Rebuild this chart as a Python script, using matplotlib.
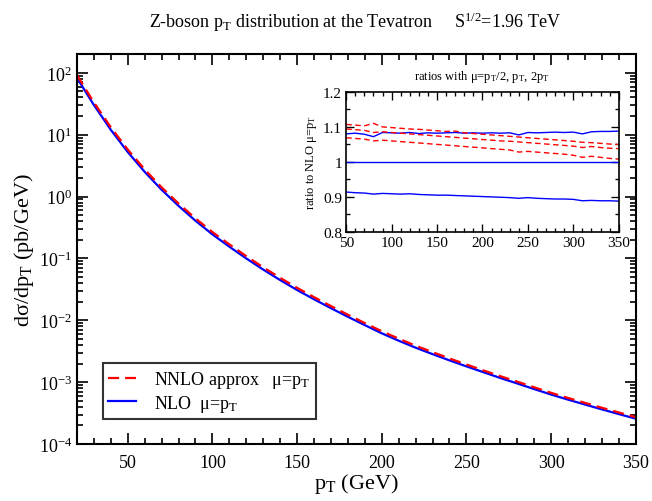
import numpy as np
import matplotlib.pyplot as plt
from matplotlib.ticker import MultipleLocator, LogLocator, NullFormatter

plt.rcParams['font.family'] = ['Liberation Serif', 'DejaVu Serif']
plt.rcParams['mathtext.fontset'] = 'custom'
plt.rcParams['mathtext.rm'] = 'Liberation Serif'
plt.rcParams['mathtext.it'] = 'Liberation Serif:italic'
plt.rcParams['mathtext.bf'] = 'Liberation Serif:bold'

# DADOS - curva principal (pb/GeV)
pt = [20, 25, 30, 35, 40, 45, 50, 60, 70, 80, 90, 100, 110, 120, 130, 140, 150,
      160, 170, 180, 190, 200, 210, 220, 230, 240, 250, 260, 270, 280, 290, 300,
      310, 320, 330, 340, 350]
nlo = [83.2, 50.1, 30.2, 19.1, 12.0, 7.94, 5.25, 2.51, 1.29, 0.708, 0.407, 0.245,
       0.155, 0.100, 0.0661, 0.0447, 0.0309, 0.0219, 0.0157, 0.0114, 0.00836, 0.00617,
       0.00468, 0.00361, 0.00284, 0.00225, 0.00180, 0.00145, 0.00117, 0.000953,
       0.000774, 0.000631, 0.000522, 0.000435, 0.000363, 0.000305, 0.000257]
nnlo = [92.0, 55.3, 33.3, 21.0, 13.2, 8.72, 5.76, 2.75, 1.41, 0.773, 0.444, 0.267,
        0.169, 0.109, 0.0719, 0.0486, 0.0335, 0.0237, 0.0170, 0.0123, 0.00903, 0.00666,
        0.00505, 0.00389, 0.00306, 0.00242, 0.00193, 0.00155, 0.00125, 0.00102,
        0.000827, 0.000673, 0.000556, 0.000463, 0.000386, 0.000324, 0.000272]

# DADOS - razoes (inset)
pt_r = [50, 60, 70, 80, 90, 100, 110, 120, 130, 140, 150, 160, 170, 180, 190, 200,
        210, 220, 230, 240, 250, 260, 270, 280, 290, 300, 310, 320, 330, 340, 350]
nlo_hi = [1.080, 1.082, 1.079, 1.072, 1.084, 1.083, 1.082, 1.084, 1.081, 1.083, 1.082,
          1.083, 1.084, 1.082, 1.083, 1.082, 1.083, 1.082, 1.083, 1.077, 1.084, 1.083,
          1.084, 1.085, 1.084, 1.085, 1.080, 1.086, 1.087, 1.087, 1.088]
nlo_one = [1.0] * 31
nlo_lo = [0.914, 0.912, 0.911, 0.908, 0.910, 0.909, 0.908, 0.909, 0.907, 0.906, 0.905,
          0.905, 0.904, 0.903, 0.902, 0.901, 0.900, 0.899, 0.898, 0.896, 0.898, 0.896,
          0.895, 0.894, 0.894, 0.893, 0.889, 0.890, 0.889, 0.889, 0.888]
nnlo_hi = [1.107, 1.105, 1.103, 1.110, 1.100, 1.098, 1.096, 1.094, 1.093, 1.091, 1.089,
           1.087, 1.088, 1.083, 1.081, 1.079, 1.077, 1.075, 1.073, 1.071, 1.069, 1.067,
           1.065, 1.063, 1.061, 1.059, 1.056, 1.055, 1.053, 1.051, 1.050]
nnlo_mid = [1.094, 1.092, 1.090, 1.084, 1.086, 1.084, 1.082, 1.080, 1.078, 1.076, 1.074,
            1.072, 1.070, 1.068, 1.066, 1.064, 1.062, 1.060, 1.059, 1.057, 1.055, 1.053,
            1.051, 1.049, 1.047, 1.045, 1.041, 1.044, 1.041, 1.039, 1.038]
nnlo_lo = [1.069, 1.067, 1.065, 1.060, 1.062, 1.060, 1.058, 1.056, 1.054, 1.052, 1.050,
           1.048, 1.046, 1.044, 1.042, 1.040, 1.038, 1.036, 1.034, 1.028, 1.030, 1.028,
           1.026, 1.024, 1.022, 1.019, 1.013, 1.016, 1.013, 1.010, 1.008]


def style_axes(ax, major_len, minor_len, width):
    for sp in ax.spines.values():
        sp.set_linewidth(width)
    ax.tick_params(which='both', direction='in', top=True, right=True, width=width * 0.8)
    ax.tick_params(which='major', length=major_len)
    ax.tick_params(which='minor', length=minor_len)


fig = plt.figure(figsize=(6.52, 5.02), dpi=100)

# grafico principal
ax = fig.add_axes([0.118, 0.1135, 0.857, 0.7765])
ax.plot(pt, nlo, color='blue', lw=1.6, label=r'NLO  μ=p$_\mathrm{T}$')
ax.plot(pt, nnlo, color='red', lw=1.6, dashes=(5, 2.7), label=r'NNLO approx   μ=p$_\mathrm{T}$')
ax.set_yscale('log')
ax.set_xlim(20, 350)
ax.set_ylim(1e-4, 2e2)
ax.xaxis.set_major_locator(MultipleLocator(50))
ax.xaxis.set_minor_locator(MultipleLocator(10))
ax.yaxis.set_major_locator(LogLocator(base=10, numticks=20))
ax.yaxis.set_minor_locator(LogLocator(base=10, subs=np.arange(2, 10), numticks=20))
ax.yaxis.set_minor_formatter(NullFormatter())
style_axes(ax, 8, 4, 1.5)
ax.tick_params(labelsize=13)
ax.tick_params(axis='x', pad=7)
ax.set_xlabel(r'p$_\mathrm{T}$ (GeV)', fontsize=16, labelpad=0)
ax.set_ylabel(r'dσ/dp$_\mathrm{T}$ (pb/GeV)', fontsize=16, labelpad=2)

handles, labels = ax.get_legend_handles_labels()
leg = ax.legend(handles[::-1], labels[::-1], loc='lower left', bbox_to_anchor=(0.04, 0.055),
                fontsize=13, frameon=True, fancybox=False, handlelength=1.55,
                borderpad=0.3, labelspacing=0.15, handletextpad=1.0, borderaxespad=0.2)
leg.get_frame().set_edgecolor('black')
leg.get_frame().set_linewidth(1.5)

fig.text(0.545, 0.955, r'Z-boson p$_\mathrm{T}$ distribution at the Tevatron     S$^{1/2}$=1.96 TeV',
         ha='center', va='center', fontsize=13)

# inset com as razoes
ins = fig.add_axes([0.531, 0.536, 0.418, 0.279])
ins.plot(pt_r, nlo_hi, color='blue', lw=1.0)
ins.plot(pt_r, nlo_one, color='blue', lw=1.0)
ins.plot(pt_r, nlo_lo, color='blue', lw=1.0)
for serie in (nnlo_hi, nnlo_mid, nnlo_lo):
    ins.plot(pt_r, serie, color='red', lw=1.0, dashes=(4, 2.5))
ins.set_xlim(50, 350)
ins.set_ylim(0.8, 1.2)
ins.xaxis.set_major_locator(MultipleLocator(50))
ins.xaxis.set_minor_locator(MultipleLocator(10))
ins.yaxis.set_minor_locator(MultipleLocator(0.05))
ins.set_yticks([0.8, 0.9, 1.0, 1.1, 1.2])
ins.set_yticklabels(['0.8', '0.9', '1', '1.1', '1.2'])
style_axes(ins, 6, 3, 1.2)
ins.tick_params(labelsize=11, pad=3)
ins.set_ylabel(r'ratio to NLO μ=p$_\mathrm{T}$', fontsize=9, labelpad=3)
ins.set_title(r'ratios with μ=p$_\mathrm{T}$/2, p$_\mathrm{T}$, 2p$_\mathrm{T}$', fontsize=9, pad=9)

plt.savefig('out.png', dpi=100)
